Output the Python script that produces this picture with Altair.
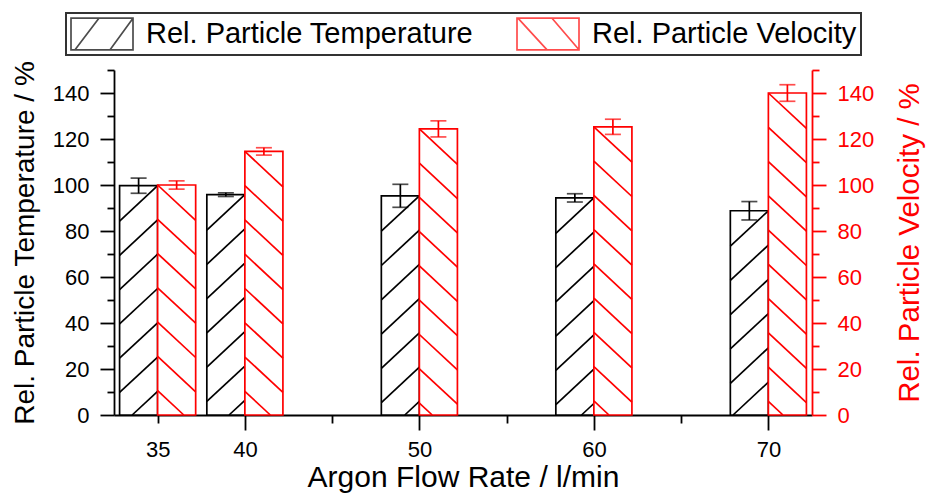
import altair as alt
import pandas as pd

# Argon flow rate (l/min) and relative particle properties (%)
flow_rate = [35, 40, 50, 60, 70]
temperature = [99.7, 95.8, 95.3, 94.4, 88.8]
temperature_err = [3.3, 0.8, 5.0, 1.8, 4.0]
velocity = [100.0, 114.6, 124.4, 125.3, 140.0]
velocity_err = [1.8, 1.6, 3.5, 3.3, 3.6]
series = ["Rel. Particle Temperature", "Rel. Particle Velocity"]

BAR_W = 2.18        # bar width in l/min
HATCH_GAP = 14.9    # vertical distance between hatch lines (axis units)
HATCH_DROP = 15.4   # vertical drop of one hatch line across a bar
LINE_W = 1.7
RED = "#ff0000"
FONT = "Liberation Sans"


def bar_table(values, errs, side):
    rows = []
    for f, v, e in zip(flow_rate, values, errs):
        x0 = f - BAR_W if side == "left" else f
        rows.append({"flow": f, "x0": x0, "x1": x0 + BAR_W,
                     "xc": x0 + BAR_W / 2, "value": v, "lo": v - e, "hi": v + e})
    return pd.DataFrame(rows)


def hatch_table(bars, rising):
    """Diagonal hatch segments anchored at each bar's top, clipped at zero."""
    rows = []
    for _, b in bars.iterrows():
        xl, xr, top = b["x0"], b["x1"], b["value"]
        i = 0
        while top - i * HATCH_GAP > 0:
            hi = top - i * HATCH_GAP
            lo = hi - HATCH_DROP
            frac = 1.0 if lo >= 0 else hi / HATCH_DROP
            if rising:   # "/" : high end on the right edge
                xa, xb = xr, xr - (xr - xl) * frac
            else:        # "\" : high end on the left edge
                xa, xb = xl, xl + (xr - xl) * frac
            rows.append({"xa": xa, "ya": hi, "xb": xb, "yb": max(lo, 0.0)})
            i += 1
    return pd.DataFrame(rows)


temp_df = bar_table(temperature, temperature_err, "left")
vel_df = bar_table(velocity, velocity_err, "right")
temp_hatch = hatch_table(temp_df, rising=True)
vel_hatch = hatch_table(vel_df, rising=False)

x_scale = alt.Scale(domain=[32.5, 72.5], nice=False, zero=False)
y_scale = alt.Scale(domain=[0, 150], nice=False, zero=True)

x_axis = alt.Axis(
    values=[35, 40, 45, 50, 55, 60, 65, 70],
    labelExpr="indexof([45, 55, 65], datum.value) >= 0 ? '' : datum.label",
    tickSize={"condition": {"test": "datum.value % 10 === 0", "value": 15}, "value": 8},
    labelPadding={"condition": {"test": "datum.value % 10 === 0", "value": 9}, "value": 16},
    labelOverlap=False, labelFlush=False,
    title="Argon Flow Rate / l/min", titleFontSize=30,
    titleX=349, titleY=71, titleAlign="center", titleBaseline="alphabetic",
)


def y_axis(title, orient, color, title_x, title_size):
    return alt.Axis(
        orient=orient,
        values=list(range(0, 151, 10)),
        labelExpr="datum.value % 20 === 0 && datum.value < 150 ? datum.label : ''",
        tickSize={"condition": {"test": "datum.value % 20 === 0", "value": 14}, "value": 7},
        labelPadding=11, labelOverlap=False, labelFlush=False,
        domainColor=color, tickColor=color, labelColor=color, titleColor=color,
        title=title, titleFontSize=title_size, titleAngle=270, titleX=title_x, titleY=172.5,
        titleAlign="center", titleBaseline="alphabetic",
    )


left_axis = y_axis("Rel. Particle Temperature / %", "left", "black", -81, 28)
right_axis = y_axis("Rel. Particle Velocity / %", "right", RED, 106, 29.5)


def series_layer(bars, hatch, color, axis, legend_layer=None):
    bar = alt.Chart(bars).mark_bar(fill="white", stroke=color, strokeWidth=LINE_W).encode(
        x=alt.X("x0:Q", scale=x_scale, axis=x_axis),
        x2="x1:Q",
        y=alt.Y("value:Q", scale=y_scale, axis=axis),
        y2=alt.Y2("zero:Q"),
    ).transform_calculate(zero="0")
    lines = alt.Chart(hatch).mark_rule(stroke=color, strokeWidth=LINE_W).encode(
        x=alt.X("xa:Q", scale=x_scale, axis=x_axis),
        x2="xb:Q",
        y=alt.Y("ya:Q", scale=y_scale, axis=axis),
        y2="yb:Q",
    )
    whisker = alt.Chart(bars).mark_rule(stroke=color, strokeWidth=LINE_W).encode(
        x=alt.X("xc:Q", scale=x_scale, axis=x_axis),
        y=alt.Y("lo:Q", scale=y_scale, axis=axis),
        y2="hi:Q",
    )
    caps = alt.Chart(bars).transform_fold(["lo", "hi"], as_=["end", "level"]).mark_tick(
        orient="horizontal", size=16, thickness=LINE_W, color=color
    ).encode(
        x=alt.X("xc:Q", scale=x_scale, axis=x_axis),
        y=alt.Y("level:Q", scale=y_scale, axis=axis),
    )
    layers = [bar, lines, whisker, caps]
    if legend_layer is not None:
        layers.append(legend_layer)
    return alt.layer(*layers)


# Hatched swatches for the legend (unit-square custom symbol paths)
PATH_T = "M-1,-0.51H1V0.51H-1Z M-0.87,0.51L-0.1,-0.51 M0.26,0.51L1,-0.51"
PATH_V = "M-1,-0.51H1V0.51H-1Z M-0.97,-0.51L-0.03,0.51 M0.13,-0.51L1,0.51"

legend = alt.Legend(
    title=None, orient="none", legendX=-48, legendY=-57, direction="horizontal",
    symbolSize=3844, clipHeight=34, padding=4, labelOffset=12, columnPadding=42,
    labelFont=FONT, labelFontSize=29, labelColor="black", labelLimit=1000,
    strokeColor="#333333", symbolStrokeWidth=LINE_W,
)
legend_df = pd.DataFrame({"series": series, "flow": [flow_rate[0]] * 2, "value": [0.0, 0.0]})
legend_layer = alt.Chart(legend_df).transform_filter("false").mark_point(
    filled=False, strokeWidth=LINE_W
).encode(
    x=alt.X("flow:Q", scale=x_scale, axis=x_axis),
    y=alt.Y("value:Q", scale=y_scale, axis=left_axis),
    color=alt.Color("series:N", scale=alt.Scale(domain=series, range=["black", RED]), legend=legend),
    shape=alt.Shape("series:N", scale=alt.Scale(domain=series, range=[PATH_T, PATH_V]), legend=legend),
)

left = series_layer(temp_df, temp_hatch, "black", left_axis, legend_layer)
right = series_layer(vel_df, vel_hatch, RED, right_axis)

chart = alt.layer(left, right).resolve_scale(y="independent").properties(
    width=698, height=345,
    autosize=alt.AutoSizeParams(type="none"),
    padding={"left": 114, "top": 70, "right": 121, "bottom": 78},
).configure_view(stroke=None).configure_axis(
    grid=False, domainWidth=1.8, tickWidth=1.8, domainColor="black", tickColor="black",
    labelFont=FONT, labelFontSize=22, titleFont=FONT, titleFontSize=28,
    titleFontWeight="normal", labelColor="black", titleColor="black",
).configure_legend(strokeWidth=2)

chart.save("out.html", embed_options={"renderer": "svg", "actions": False})
